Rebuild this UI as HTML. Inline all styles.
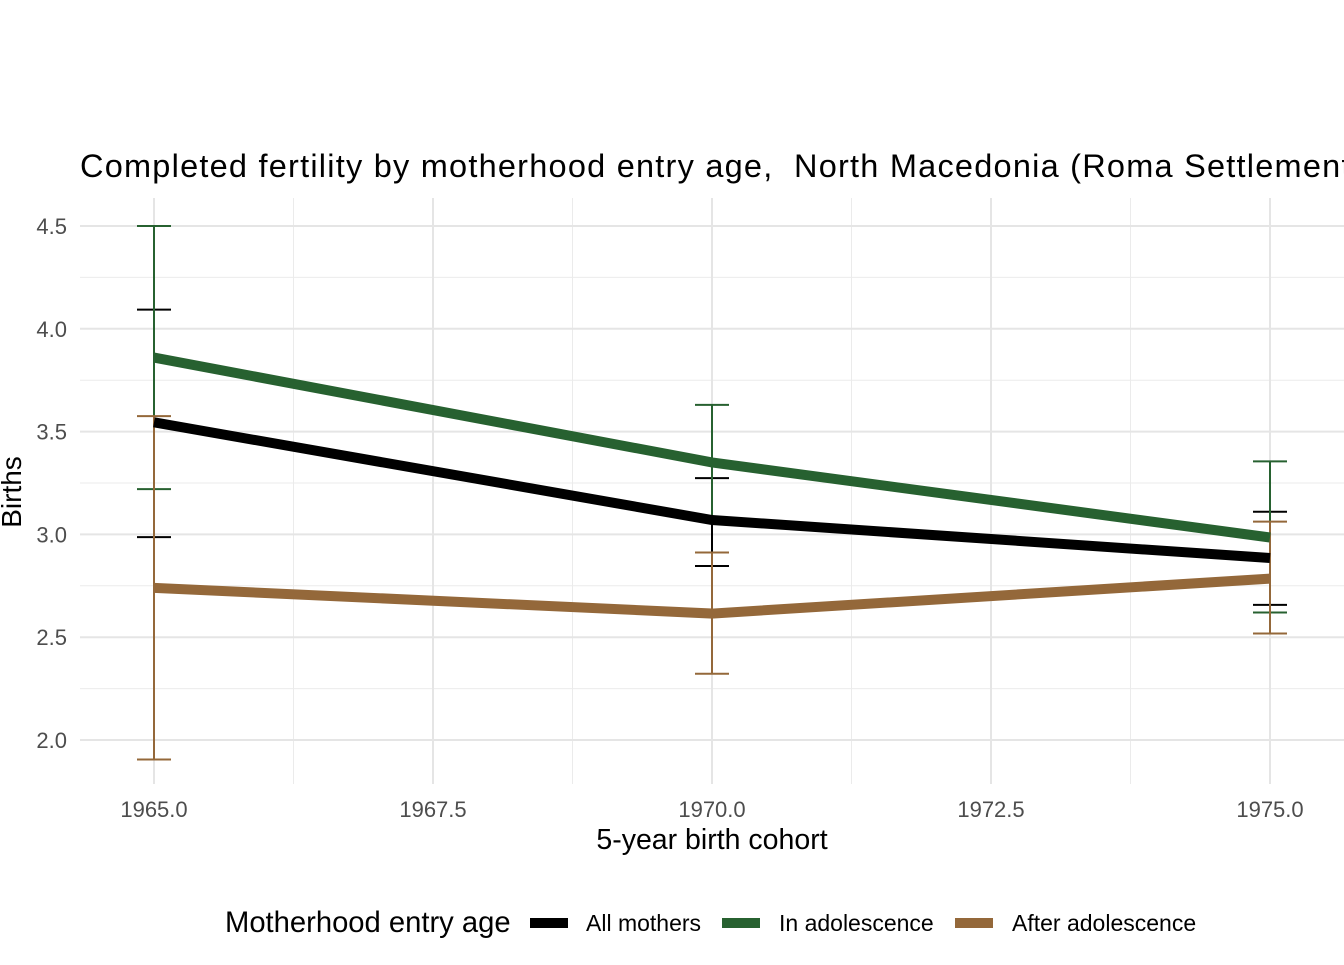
<!DOCTYPE html>
<html><head><meta charset="utf-8"><style>
body{margin:0;background:#fff;font-family:"Liberation Sans",Arial,sans-serif}
svg text{font-family:"Liberation Sans",Arial,sans-serif}
</style></head><body>
<svg id="chart" width="1344" height="960" xmlns="http://www.w3.org/2000/svg">
<g id="grid"></g><g id="marks"></g><g id="axes"></g>
<text x="80" y="177" font-size="32.5" fill="#000" xml:space="preserve" textLength="1300" lengthAdjust="spacing" style="white-space:pre">Completed fertility by motherhood entry age,  North Macedonia (Roma Settlements)</text>
<text x="712" y="849" font-size="28.5" text-anchor="middle">5-year birth cohort</text>
<text transform="translate(21,492) rotate(-90)" font-size="28" text-anchor="middle">Births</text>
<g>
<text x="225" y="932" font-size="29.2">Motherhood entry age</text>
<g><rect x="530" y="918" width="38" height="10" fill="#000"/><text x="586" y="931" font-size="23">All mothers</text></g>
<g><rect x="722" y="918" width="38" height="10" fill="#276130"/><text x="779" y="931" font-size="23">In adolescence</text></g>
<g><rect x="955" y="918" width="38" height="10" fill="#94683a"/><text x="1012" y="931" font-size="23">After adolescence</text></g>
</g>
</svg>
<script>
const years=[1965,1970,1975];
const allMean=[3.545,3.07,2.885];
const allLo=[2.987,2.846,2.657];
const allHi=[4.093,3.274,3.11];
const adoMean=[3.86,3.35,2.985];
const adoLo=[3.22,3.065,2.62];
const adoHi=[4.5,3.63,3.355];
const aftMean=[2.74,2.615,2.785];
const aftLo=[1.905,2.322,2.518];
const aftHi=[3.575,2.912,3.062];
const yTicks=[2.0,2.5,3.0,3.5,4.0,4.5];
const xTicks=[1965,1967.5,1970,1972.5,1975];
const NS="http://www.w3.org/2000/svg";
const X=v=>154+(v-1965)*111.6;
const Y=v=>740-(v-2)*205.6;
function mk(p,t,a){const e=document.createElementNS(NS,t);for(const k in a)e.setAttribute(k,a[k]);p.appendChild(e);return e;}
const grid=document.getElementById('grid'),marks=document.getElementById('marks'),axes=document.getElementById('axes');
for(let v=2.25;v<4.5;v+=0.5){const l=mk(grid,'line',{x1:80,x2:1344,y1:Y(v),y2:Y(v),stroke:'#ebebeb','stroke-width':1});

}
for(let v=1966.25;v<1975;v+=2.5){const l=mk(grid,'line',{x1:X(v),x2:X(v),y1:198,y2:784,stroke:'#ebebeb','stroke-width':1});

}
yTicks.forEach(v=>{const l=mk(grid,'line',{x1:80,x2:1344,y1:Y(v),y2:Y(v),stroke:'#e5e5e5','stroke-width':2});


const t=mk(axes,'text',{x:67,y:Y(v)+8,'font-size':22,'text-anchor':'end',fill:'#4d4d4d'});t.textContent=v.toFixed(1);

});
xTicks.forEach(v=>{const l=mk(grid,'line',{x1:X(v),x2:X(v),y1:198,y2:784,stroke:'#e5e5e5','stroke-width':2});


const t=mk(axes,'text',{x:X(v),y:817,'font-size':22,'text-anchor':'middle',fill:'#4d4d4d'});t.textContent=v.toFixed(1);

});
const series=[['all',allMean,allLo,allHi,'#000'],['adolescence',adoMean,adoLo,adoHi,'#276130'],['after',aftMean,aftLo,aftHi,'#94683a']];
series.forEach(s=>{years.forEach((yr,i)=>{const g=mk(marks,'g',{stroke:s[4],'stroke-width':2,fill:'none'});


mk(g,'line',{x1:X(yr),x2:X(yr),y1:Y(s[2][i]),y2:Y(s[3][i])});
mk(g,'line',{x1:X(yr)-17,x2:X(yr)+17,y1:Y(s[2][i]),y2:Y(s[2][i])});
mk(g,'line',{x1:X(yr)-17,x2:X(yr)+17,y1:Y(s[3][i]),y2:Y(s[3][i])});});});
series.forEach(s=>{const p=mk(marks,'polyline',{points:years.map((yr,i)=>X(yr)+','+Y(s[1][i])).join(' '),fill:'none',stroke:s[4],'stroke-width':10});

});
</script>
</body></html>
